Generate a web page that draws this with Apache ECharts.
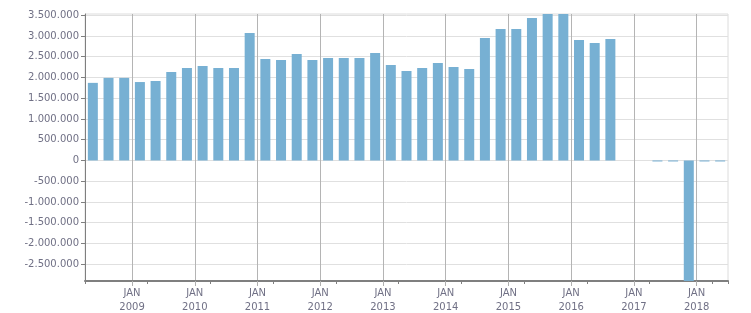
<!DOCTYPE html>
<html>
<head>
<meta charset="utf-8">
<script src="https://cdn.jsdelivr.net/npm/echarts@6/dist/echarts.min.js"></script>
<style>html,body{margin:0;padding:0;background:#fff}#c{width:751px;height:313px}</style>
</head>
<body>
<div id="c"></div>
<script>
// Quarter start months (one bar per quarter)
const quarters = [
  '2008-04','2008-07','2008-10',
  '2009-01','2009-04','2009-07','2009-10',
  '2010-01','2010-04','2010-07','2010-10',
  '2011-01','2011-04','2011-07','2011-10',
  '2012-01','2012-04','2012-07','2012-10',
  '2013-01','2013-04','2013-07','2013-10',
  '2014-01','2014-04','2014-07','2014-10',
  '2015-01','2015-04','2015-07','2015-10',
  '2016-01','2016-04','2016-07','2016-10',
  '2017-01','2017-04','2017-07','2017-10',
  '2018-01','2018-04'
];
const axisEnd = '2018-07';
const values = [
  1870000, 1990000, 1990000,
  1890000, 1915000, 2130000, 2230000,
  2275000, 2230000, 2230000, 3075000,
  2445000, 2420000, 2565000, 2420000,
  2470000, 2470000, 2470000, 2590000,
  2300000, 2155000, 2230000, 2350000,
  2250000, 2205000, 2950000, 3170000,
  3170000, 3435000, 3530000, 3530000,
  2905000, 2830000, 2930000, null,
  null, -25000, -25000, -2906000,
  -25000, -25000
];
const yTicks = [-2500000,-2000000,-1500000,-1000000,-500000,0,500000,1000000,1500000,2000000,2500000,3000000,3500000];
const yMin = -2906000;
const yMax = 3530000;

const boundaries = quarters.concat([axisEnd]);
const isJan = (i, v) => String(v).slice(5) === '01';
const fmt = v => (v < 0 ? '-' : '') + Math.abs(v).toString().replace(/\B(?=(\d{3})+(?!\d))/g, '.');
const labelStyle = { color: '#707085', fontFamily: 'DejaVu Sans', fontSize: 10 };

const chart = echarts.init(document.getElementById('c'));
chart.setOption({
  animation: false,
  grid: { left: 85, right: 23, top: 14, bottom: 32, show: true, borderColor: '#dcdcdc', borderWidth: 1,
          containLabel: false, outerBoundsMode: 'none' },
  xAxis: [
    {
      type: 'category', data: quarters, boundaryGap: true, position: 'bottom',
      axisLine: { show: true, onZero: false, lineStyle: { color: '#7f7f7f', width: 2 } },
      axisTick: { show: true, length: 3, lineStyle: { color: '#7f7f7f' } },
      axisLabel: { show: false },
      splitLine: { show: false }
    },
    {
      type: 'category', data: boundaries, boundaryGap: false, position: 'bottom',
      axisLine: { show: false, onZero: false },
      axisTick: { show: true, length: 5, interval: isJan, lineStyle: { color: '#b0b0b0' } },
      axisLabel: Object.assign({
        show: true, interval: isJan, lineHeight: 13.5, margin: 6,
        formatter: v => 'JAN\n' + String(v).slice(0, 4)
      }, labelStyle),
      splitLine: { show: true, interval: isJan, lineStyle: { color: '#b4b4b4', width: 1 } }
    }
  ],
  yAxis: {
    type: 'value', min: yMin, max: yMax,
    axisLine: { show: true, lineStyle: { color: '#7f7f7f' } },
    axisTick: { show: true, length: 4, customValues: yTicks, lineStyle: { color: '#7f7f7f' } },
    axisLabel: Object.assign({ customValues: yTicks, formatter: fmt, margin: 6 }, labelStyle),
    splitLine: { show: true, lineStyle: { color: '#e0e0e0' } }
  },
  series: [{
    type: 'bar', xAxisIndex: 0, data: values, barWidth: 10,
    itemStyle: { color: '#77b0d3' }
  }]
});
</script>
</body>
</html>
